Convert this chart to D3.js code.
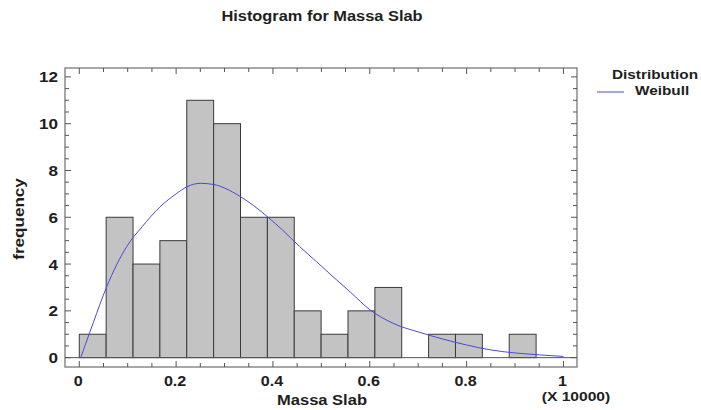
<!DOCTYPE html>
<html>
<head>
<meta charset="utf-8">
<script src="https://cdn.jsdelivr.net/npm/d3@7"></script>
<style>
  body { margin: 0; background: #fff; }
  text { font-family: "Liberation Sans", Arial, sans-serif; font-weight: bold; fill: #1e1e1e; }
</style>
</head>
<body>
<svg id="chart" width="701" height="410"></svg>
<script>
// histogram bins (in units of 10000)
const binStart = 0;
const binWidth = 0.0555;
const counts = [1, 6, 4, 5, 11, 10, 6, 6, 2, 1, 2, 3, 0, 1, 1, 0, 1];

// fitted Weibull curve
const curveX = [0.003, 0.029, 0.056, 0.098, 0.13, 0.167, 0.2, 0.222, 0.25, 0.278, 0.3, 0.333, 0.36, 0.39, 0.42, 0.455, 0.49, 0.524, 0.56, 0.6, 0.65, 0.7, 0.75, 0.8, 0.85, 0.9, 0.95, 1.0];
const curveY = [0, 1.5, 3.0, 4.75, 5.6, 6.45, 7.0, 7.3, 7.45, 7.4, 7.25, 6.88, 6.5, 6.0, 5.45, 4.75, 4.1, 3.46, 2.8, 2.05, 1.45, 1.1, 0.8, 0.54, 0.33, 0.2, 0.12, 0.05];

const xTicks = [0, 0.2, 0.4, 0.6, 0.8, 1];
const yTicks = [0, 2, 4, 6, 8, 10, 12];

const svg = d3.select('#chart');
const plotL = 65, plotR = 577, plotT = 68, plotB = 367;

const x = d3.scaleLinear().domain([-0.0295, 1.028]).range([plotL, plotR]);
const y = d3.scaleLinear().domain([-0.4, 12.38]).range([plotB, plotT]);

// the reference font is a bit wider than Liberation, stretch text horizontally
function widen(sel, f) {
    sel.each(function() {
        let w = this.getComputedTextLength();
        d3.select(this).attr('textLength', w * f).attr('lengthAdjust', 'spacingAndGlyphs');
    });
}

// title
svg.append('text')
    .attr('x', 322).attr('y', 21)
    .attr('text-anchor', 'middle')
    .style('font-size', '14px')
    .text('Histogram for Massa Slab')
    .call(widen, 1.17);

// bars
svg.append('g').selectAll('rect')
    .data(counts)
    .enter()
    .append('rect')
    .attr('x', (d, i) => x(binStart + i * binWidth))
    .attr('width', x(binWidth) - x(0))
    .attr('y', d => y(d))
    .attr('height', d => y(0) - y(d))
    .attr('fill', '#c3c3c3')
    .attr('stroke', '#3a3a3a')
    .attr('stroke-width', 1)
    .style('display', d => d === 0 ? 'none' : null);

// zero baseline
svg.append('line')
    .attr('x1', plotL).attr('x2', plotR)
    .attr('y1', y(0)).attr('y2', y(0))
    .attr('stroke', '#555');

// weibull line
const pts = curveX.map((v, i) => [v, curveY[i]]);
svg.append('path')
    .datum(pts)
    .attr('fill', 'none')
    .attr('stroke', '#4a4ad8')
    .attr('stroke-width', 1)
    .attr('d', d3.line().x(d => x(d[0])).y(d => y(d[1])).curve(d3.curveMonotoneX));

// frame
svg.append('rect')
    .attr('x', plotL).attr('y', plotT)
    .attr('width', plotR - plotL).attr('height', plotB - plotT)
    .attr('fill', 'none')
    .attr('stroke', '#8a8a8a')
    .attr('stroke-width', 1.5);

// inner ticks on all four sides
const xMinor = d3.range(0, 1.0001, 0.05);
const yMinor = d3.range(0, 12.0001, 0.5);
const tickG = svg.append('g').attr('stroke', '#555').attr('stroke-width', 1);
xMinor.forEach(v => {
    const major = Math.abs(v * 5 - Math.round(v * 5)) < 1e-6;
    const len = major ? 6 : 4;
    tickG.append('line').attr('x1', x(v)).attr('x2', x(v)).attr('y1', plotB).attr('y2', plotB - len);
    tickG.append('line').attr('x1', x(v)).attr('x2', x(v)).attr('y1', plotT).attr('y2', plotT + len);
});
yMinor.forEach(v => {
    const major = Math.abs(v / 2 - Math.round(v / 2)) < 1e-6;
    const len = major ? 6 : 4;
    tickG.append('line').attr('x1', plotL).attr('x2', plotL + len).attr('y1', y(v)).attr('y2', y(v));
    tickG.append('line').attr('x1', plotR).attr('x2', plotR - len).attr('y1', y(v)).attr('y2', y(v));
});

// tick labels
svg.append('g').selectAll('text')
    .data(xTicks)
    .enter()
    .append('text')
    .attr('x', d => x(d) - 1)
    .attr('y', 386)
    .attr('text-anchor', 'middle')
    .style('font-size', '14px')
    .text(d => d)
    .call(widen, 1.15);

svg.append('g').selectAll('text')
    .data(yTicks)
    .enter()
    .append('text')
    .attr('x', 58)
    .attr('y', d => y(d) + 5.5)
    .attr('text-anchor', 'end')
    .style('font-size', '14px')
    .text(d => d)
    .call(widen, 1.22);

// axis titles
svg.append('text')
    .attr('x', 322).attr('y', 405)
    .attr('text-anchor', 'middle')
    .style('font-size', '14px')
    .text('Massa Slab')
    .call(widen, 1.18);

svg.append('text')
    .attr('x', 576).attr('y', 401)
    .attr('text-anchor', 'middle')
    .style('font-size', '13px')
    .text('(X 10000)')
    .call(widen, 1.2);

svg.append('text')
    .attr('transform', 'translate(24,219) rotate(-90)')
    .attr('text-anchor', 'middle')
    .style('font-size', '14px')
    .text('frequency')
    .call(widen, 1.22);

// legend
svg.append('text')
    .attr('x', 612).attr('y', 79)
    .style('font-size', '13px')
    .text('Distribution')
    .call(widen, 1.18);
svg.append('line')
    .attr('x1', 597).attr('x2', 624)
    .attr('y1', 92).attr('y2', 92)
    .attr('stroke', '#4a4ad8');
svg.append('text')
    .attr('x', 635).attr('y', 95)
    .style('font-size', '13px')
    .text('Weibull')
    .call(widen, 1.18);
</script>
</body>
</html>
